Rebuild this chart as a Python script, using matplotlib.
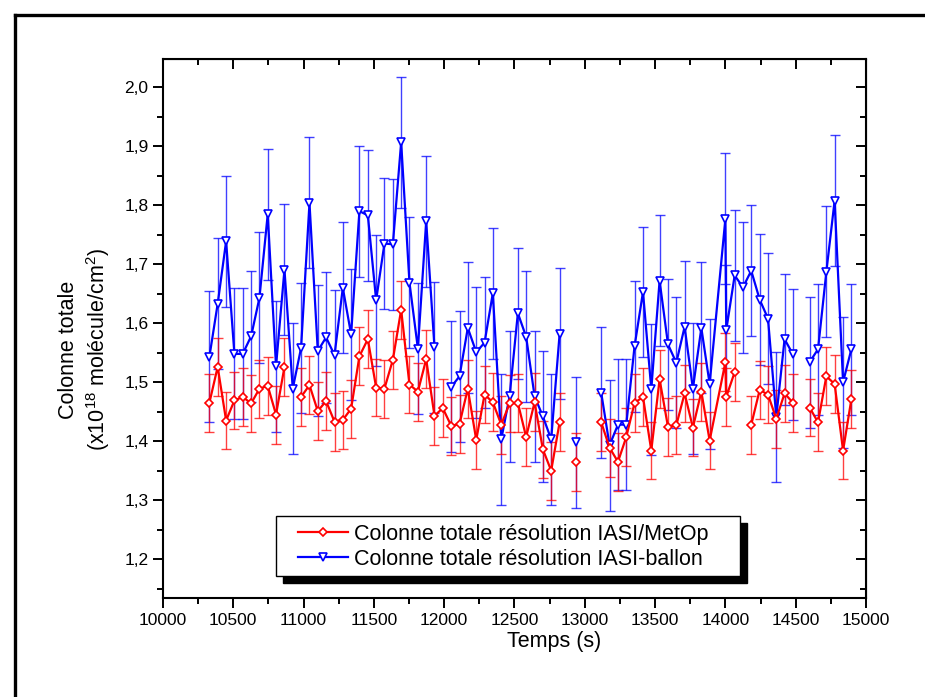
import numpy as np
import matplotlib
matplotlib.use('Agg')
import matplotlib.pyplot as plt
from matplotlib.ticker import MultipleLocator
from matplotlib.lines import Line2D
from matplotlib.patches import Rectangle

plt.rcParams['font.family'] = ['Liberation Sans', 'DejaVu Sans']
plt.rcParams['mathtext.fontset'] = 'custom'
plt.rcParams['mathtext.rm'] = 'Liberation Sans'
plt.rcParams['mathtext.it'] = 'Liberation Sans:italic'

nan = np.nan

# time of each retrieval (s)
temps = [10330, 10389, 10449, 10508, 10567, 10627, 10686, 10745, 10804, 10864,
         10923, 10982, 11042, 11101, 11160, 11220, 11279, 11338, 11397, 11457,
         11516, 11575, 11635, 11694, 11753, 11813, 11872, 11931, 11990, 12050,
         12109, 12168, 12228, 12287, 12346, 12406, 12465, 12524, 12583, 12643,
         12702, 12761, 12821, 12880, 12939, 12999, 13058, 13117, 13176, 13236,
         13295, 13354, 13414, 13473, 13532, 13592, 13651, 13710, 13769, 13829,
         13888, 14000, 14006, 14066, 14125, 14184, 14244, 14303, 14362, 14421,
         14481, 14540, 14599, 14659, 14718, 14777, 14837, 14896]

# colonne totale, resolution IASI/MetOp (x1e18)
col_metop = [1.465, 1.526, 1.435, 1.469, 1.475, 1.464, 1.489, 1.494, 1.445, 1.526,
             nan, 1.475, 1.495, 1.451, 1.468, 1.433, 1.436, 1.455, 1.544, 1.573,
             1.491, 1.489, 1.538, 1.623, 1.496, 1.484, 1.539, 1.443, 1.456, 1.426,
             1.429, 1.489, 1.402, 1.479, 1.466, 1.428, 1.464, 1.465, 1.407, 1.466,
             1.386, 1.350, 1.432, nan, 1.365, nan, nan, 1.432, 1.389, 1.365,
             1.407, 1.465, 1.475, 1.384, 1.505, 1.424, 1.427, 1.481, 1.423, 1.484,
             1.401, 1.534, 1.475, 1.517, nan, 1.428, 1.487, 1.479, 1.438, 1.481,
             1.465, nan, 1.457, 1.432, 1.510, 1.497, 1.384, 1.471]

# colonne totale, resolution IASI-ballon (x1e18)
col_ballon = [1.543, 1.633, 1.739, 1.548, 1.548, 1.578, 1.643, 1.785, 1.527, 1.691,
              1.489, 1.558, 1.804, 1.553, 1.576, 1.546, 1.660, 1.581, 1.790, 1.783,
              1.639, 1.735, 1.734, 1.907, 1.669, 1.557, 1.773, 1.559, nan, 1.492,
              1.510, 1.592, 1.551, 1.567, 1.651, 1.403, 1.476, 1.617, 1.577, 1.476,
              1.442, 1.403, 1.582, nan, 1.398, nan, nan, 1.482, 1.393, 1.428,
              1.428, 1.561, 1.653, 1.488, 1.672, 1.564, 1.533, 1.594, 1.489, 1.592,
              1.497, 1.777, 1.588, 1.681, 1.661, 1.689, 1.640, 1.608, 1.441, 1.573,
              1.547, nan, 1.534, 1.556, 1.687, 1.808, 1.500, 1.556]

err_metop = 0.049
err_ballon = 0.111

xticks = [10000, 10500, 11000, 11500, 12000, 12500, 13000, 13500, 14000, 14500, 15000]
yticks = [1.2, 1.3, 1.4, 1.5, 1.6, 1.7, 1.8, 1.9, 2.0]
ytick_labels = ['1,2', '1,3', '1,4', '1,5', '1,6', '1,7', '1,8', '1,9', '2,0']

W, H = 925, 697
fig = plt.figure(figsize=(9.25, 6.97), dpi=100)
ax = fig.add_axes([0.1762, 0.142, 0.76, 0.7733])

ax.errorbar(temps, col_ballon, yerr=err_ballon, fmt='none', ecolor='#0000ff',
            elinewidth=1.0, capsize=3.5, capthick=1.0, alpha=0.75, zorder=2)
ax.errorbar(temps, col_metop, yerr=err_metop, fmt='none', ecolor='#ff0000',
            elinewidth=1.0, capsize=3.5, capthick=1.0, alpha=0.75, zorder=3)
l2, = ax.plot(temps, col_ballon, '-', color='#0000ff', lw=1.6, marker='v', ms=5.5,
              mfc='white', mec='#0000ff', mew=1.2, zorder=4,
              label='Colonne totale résolution IASI-ballon')
l1, = ax.plot(temps, col_metop, '-', color='#ff0000', lw=1.6, marker='D', ms=4,
              mfc='white', mec='#ff0000', mew=1.2, zorder=5,
              label='Colonne totale résolution IASI/MetOp')

ax.set_xlim(10000, 15000)
ax.set_ylim(1.134, 2.048)
ax.set_xticks(xticks)
ax.set_yticks(yticks)
ax.set_yticklabels(ytick_labels)
ax.xaxis.set_minor_locator(MultipleLocator(250))
ax.yaxis.set_minor_locator(MultipleLocator(0.05))
ax.tick_params(which='both', direction='out', width=1.4, labelsize=12.5,
               top=False, right=False)
ax.tick_params(which='major', length=7)
ax.tick_params(which='minor', length=4)
for s in ax.spines.values():
    s.set_linewidth(1.5)

# mirrored axes with inward ticks
secx = ax.secondary_xaxis('top')
secx.set_xticks(xticks)
secx.xaxis.set_minor_locator(MultipleLocator(250))
secx.tick_params(which='both', direction='in', width=1.4, labeltop=False)
secx.tick_params(which='major', length=7)
secx.tick_params(which='minor', length=4)
secy = ax.secondary_yaxis('right')
secy.set_yticks(yticks)
secy.yaxis.set_minor_locator(MultipleLocator(0.05))
secy.tick_params(which='both', direction='in', width=1.4, labelright=False)
secy.tick_params(which='major', length=7)
secy.tick_params(which='minor', length=4)

fig.text(554.5 / W, 1 - 642 / H, 'Temps (s)', ha='center', va='center', fontsize=15.5)
fig.text(85 / W, 1 - 350 / H, 'Colonne totale\n(x10$^{18}$ molécule/cm$^2$)',
         ha='center', va='center', rotation=90, fontsize=15.5, linespacing=1.25,
         multialignment='center')

# legend box with black shadow, drawn by hand
ax.add_patch(Rectangle((283 / W, 1 - 583 / H), 464 / W, 60 / H, transform=fig.transFigure,
                       facecolor='black', edgecolor='black', clip_on=False, zorder=6))
ax.add_patch(Rectangle((276 / W, 1 - 576 / H), 464 / W, 60 / H, transform=fig.transFigure,
                       facecolor='white', edgecolor='black', lw=1.0, clip_on=False, zorder=7))
leg = ax.legend(handles=[l1, l2], loc='upper left', bbox_to_anchor=(0.1814, 0.152),
                fontsize=15.5, frameon=False, handlelength=2.3, handletextpad=0.3,
                borderpad=0.35, labelspacing=0.2, borderaxespad=0)
leg.set_zorder(8)

# outer frame (cropped on right and bottom)
fig.add_artist(Line2D([15 / W, 1], [1 - 15 / H, 1 - 15 / H], color='black', lw=2.4))
fig.add_artist(Line2D([15 / W, 15 / W], [0, 1 - 15 / H], color='black', lw=2.4))

fig.savefig('out.png', dpi=100)
